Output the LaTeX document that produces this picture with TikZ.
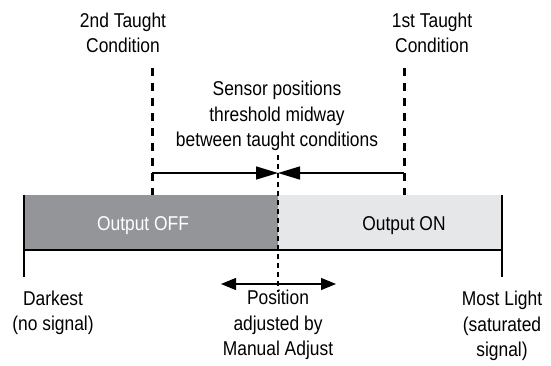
\documentclass[tikz,border=0pt]{standalone}
\usepackage{fontspec}
\setmainfont{Liberation Sans}[FakeStretch=0.87]
\usetikzlibrary{arrows.meta}
\definecolor{darkbar}{HTML}{939598}
\definecolor{lightbar}{HTML}{E6E7E8}
\tikzset{
  lbl/.style={align=center, inner sep=0pt, font=\fontsize{20}{25.5}\selectfont},
  taughtline/.style={line width=3pt, dash pattern=on 7.5pt off 7.5pt},
  midline/.style={line width=1.5pt, dash pattern=on 5pt off 4pt},
  edge/.style={line width=2.6pt},
  bigarrow/.style={line width=1.5pt, -{Triangle[length=22pt,width=13pt]}},
  adjarrow/.style={line width=1.2pt, {Triangle[length=15pt,width=12pt]}-{Triangle[length=15pt,width=12pt]}},
}
\begin{document}
\begin{tikzpicture}[x=1pt,y=-1pt]
\useasboundingbox (0,0) rectangle (551,365);
% bar
\fill[darkbar] (24,195) rectangle (278,250);
\fill[lightbar] (278,195) rectangle (502,250);
\draw[edge] (24,250) -- (502,250);
\coordinate (lt) at (24,195);
\coordinate (lb) at (24,277);
\coordinate (rt) at (502,195);
\coordinate (rb) at (502,277);
\draw[edge] (lt) -- (lb);
\draw[edge] (rt) -- (rb);
% taught lines
\coordinate (t2top) at (152,68);
\coordinate (t2bot) at (152,195);
\coordinate (t1top) at (404,68);
\coordinate (t1bot) at (404,195);
\draw[taughtline] (t2top) -- (t2bot);
\draw[taughtline] (t1top) -- (t1bot);
% mid line
\coordinate (mtop) at (278,155);
\coordinate (mbot) at (278,292);
\draw[midline] (mtop) -- (mbot);
% midway arrows
\coordinate (a2) at (152,173);
\coordinate (a1) at (404,173);
\coordinate (am) at (278,173);
\draw[bigarrow] (a2) -- (am);
\draw[bigarrow] (a1) -- (am);
% manual adjust arrow
\coordinate (adjl) at (221,284);
\coordinate (adjr) at (336,284);
\draw[adjarrow] (adjl) -- (adjr);
% labels
\node[lbl] (c2) at (123,33) {2nd Taught\\Condition};
\node[lbl] (c1) at (432,33) {1st Taught\\Condition};
\node[lbl] (sensor) at (277,116) {Sensor positions\\threshold midway\\between taught conditions};
\node[lbl, text=white] (off) at (143,226) {Output OFF};
\node[lbl] (on) at (404,226) {Output ON};
\node[lbl] (dark) at (53,313) {Darkest\\(no signal)};
\node[lbl] (light) at (502,326) {Most Light\\(saturated\\signal)};
\node[lbl] (pos) at (278,325) {Position\\adjusted by\\Manual Adjust};
\end{tikzpicture}
\end{document}
